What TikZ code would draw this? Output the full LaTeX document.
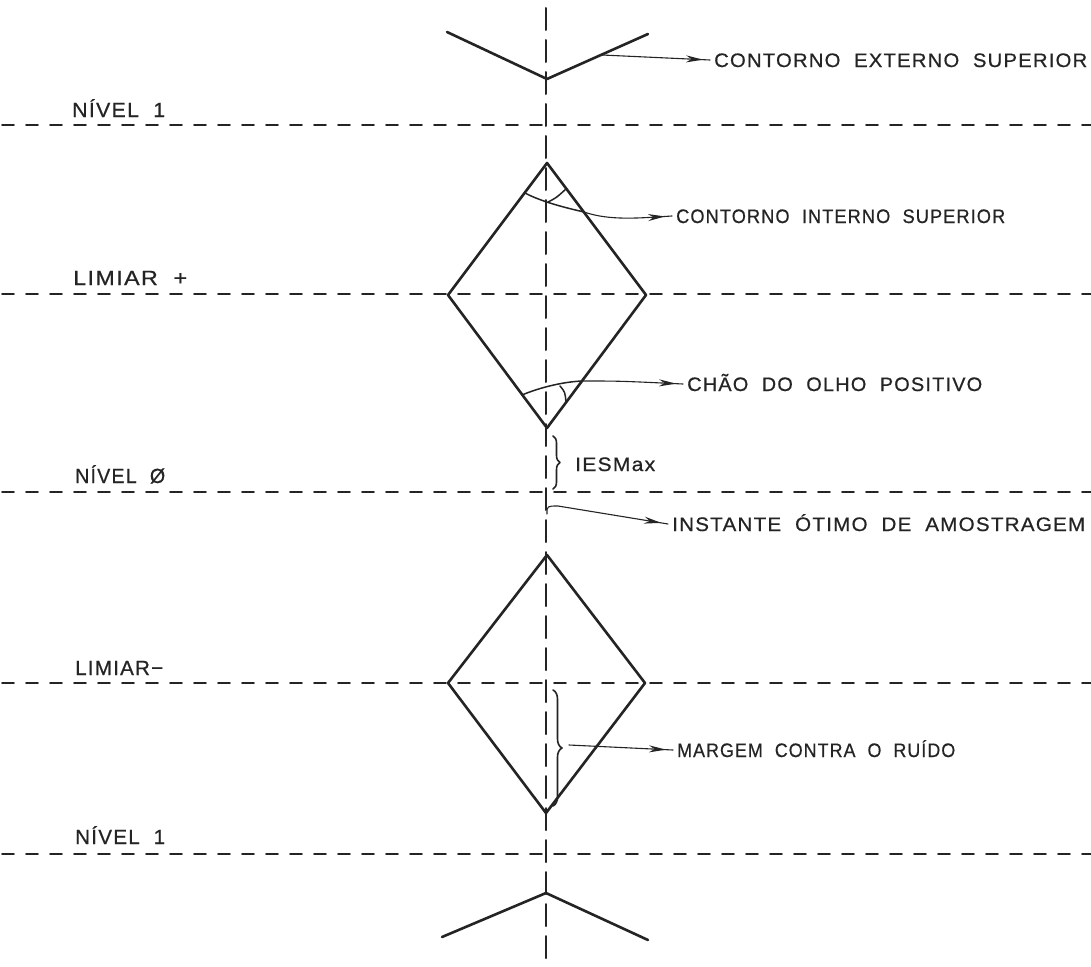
\documentclass[tikz,border=0pt]{standalone}
\usepackage{fontspec}
\usepackage{graphicx}
\newfontfamily\lettering[LetterSpace=6,WordSpace=2,FakeBold=0.6]{Liberation Sans}
\usetikzlibrary{arrows.meta,decorations.markings,decorations.pathreplacing}
\definecolor{inkc}{rgb}{0.14,0.14,0.14}
% stretch a label to a given width, keeping its height
\newcommand\fitto[2]{\resizebox{#1}{\height}{#2}}

\tikzset{
  ink/.style={draw=inkc, line cap=round, line join=round},
  axisline/.style={ink, line width=2pt, dash pattern=on 22pt off 10pt},
  levelline/.style={ink, line width=1.7pt, dash pattern=on 12pt off 12pt},
  contour/.style={ink, line width=2.6pt},
  anglemark/.style={ink, line width=1.5pt},
  callout/.style={ink, line width=1.1pt, postaction={decorate},
    decoration={markings, mark=at position -7pt with {\arrow[inkc, fill=inkc!70]{Stealth[length=17pt,width=7pt]}}}},
  bracket/.style={ink, line width=1.6pt, decorate, decoration={brace, amplitude=#1}},
  lbl/.style={inner sep=0pt, anchor=base west, text=inkc, font=\lettering\fontsize{19.5}{20}\selectfont},
  lvl/.style={lbl, font=\lettering\fontsize{20.5}{21}\selectfont},
}

\begin{document}
\begin{tikzpicture}[x=1pt, y=-1pt]
\fill[white] (0,0) rectangle (1091,966);
\useasboundingbox (0,0) rectangle (1091,966);

% sampling-instant axis
\coordinate (axTop) at (546,8);
\coordinate (axBot) at (546,962);
\draw[axisline] (axTop) -- (axBot);

% decision levels
\foreach \name/\y in {lvA/125, lvB/294, lvC/492, lvD/683, lvE/854}{
  \coordinate (\name W) at (2,\y);
  \coordinate (\name E) at (1091,\y);
  \draw[levelline] (\name W) -- (\name E);
}

% level labels
\node[lvl] (n1) at (72,117) {\fitto{93pt}{NÍVEL 1}};
\node[lvl] (limp) at (73,285) {\fitto{114pt}{LIMIAR +}};
\node[lvl] (n0) at (75,483) {\fitto{90pt}{NÍVEL Ø}};
\node[lvl] (limm) at (75,675) {\fitto{88pt}{LIMIAR−}};
\node[lvl] (n1b) at (75,844) {\fitto{90pt}{NÍVEL 1}};

% outer contour, top
\coordinate (vL) at (447,32);
\coordinate (vT) at (547,79);
\coordinate (vR) at (648,34);
\draw[contour] (vL) -- (vT) -- (vR);

% upper eye
\coordinate (uT) at (547,163);
\coordinate (uR) at (646,295);
\coordinate (uB) at (547,428);
\coordinate (uL) at (448,295);
\draw[contour] (uT) -- (uR) -- (uB) -- (uL) -- cycle;

% lower eye
\coordinate (lT) at (547,555);
\coordinate (lR) at (645,683);
\coordinate (lB) at (546,813);
\coordinate (lL) at (448,683);
\draw[contour] (lT) -- (lR) -- (lB) -- (lL) -- cycle;

% outer contour, bottom
\coordinate (bL) at (442,937);
\coordinate (bT) at (546,893);
\coordinate (bR) at (648,940);
\draw[contour] (bL) -- (bT) -- (bR);

% angle marks, upper eye
\coordinate (taL) at (525,193);
\coordinate (taR) at (584,212);
\draw[anglemark] (taL) .. controls (540,201) and (562,207) .. (taR);
\draw[anglemark] (548,202) .. controls (556,198) .. (566,189);
\coordinate (baL) at (522,395);
\coordinate (baR) at (582,381);
\draw[anglemark] (baL) .. controls (536,389) and (560,382) .. (baR);
\draw[anglemark] (560,386) .. controls (565,392) .. (566,402);

% braces
\coordinate (iesA) at (553,436);
\coordinate (iesB) at (553,489);
\draw[bracket=7pt] (iesA) -- (iesB);
\coordinate (marA) at (553,690);
\coordinate (marB) at (553,806);
\draw[bracket=9pt] (marA) -- (marB);

% labels on the right
\node[lbl] (ext) at (714,67) {\fitto{373pt}{CONTORNO EXTERNO SUPERIOR}};
\node[lbl] (int) at (676,223) {\fitto{329pt}{CONTORNO INTERNO SUPERIOR}};
\node[lbl] (cha) at (687,391) {\fitto{295pt}{CHÃO DO OLHO POSITIVO}};
\node[lbl] (ies) at (575,471) {\fitto{80pt}{IESMax}};
\node[lbl] (inst) at (672,531) {\fitto{413pt}{INSTANTE ÓTIMO DE AMOSTRAGEM}};
\node[lbl] (mar) at (677,757) {\fitto{278pt}{MARGEM CONTRA O RUÍDO}};

% callouts
\coordinate (extS) at (602,55);
\draw[callout] (extS) -- ([xshift=-4pt,yshift=7pt]ext.base west);
\draw[callout] (taR) .. controls (610,221) and (640,218) .. ([xshift=-4pt,yshift=7pt]int.base west);
\draw[callout] (baR) .. controls (620,381) .. ([xshift=-4pt,yshift=7pt]cha.base west);
\coordinate (instS) at (547,514);
\draw[callout] (instS) .. controls (547,506) .. (558,506) -- ([xshift=-4pt,yshift=7pt]inst.base west);
\coordinate (marS) at (569,745);
\draw[callout] (marS) -- ([xshift=-4pt,yshift=7pt]mar.base west);
\end{tikzpicture}
\end{document}
